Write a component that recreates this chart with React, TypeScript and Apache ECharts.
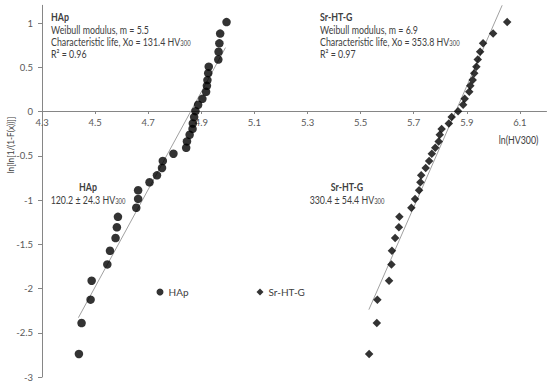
import React, { useEffect, useRef } from "react";
import * as echarts from "echarts";

// Weibull plot ordinate ln[ln[1/(1-F(x))]] shared by both materials (by rank)
const rankY = [
  1.01, 0.88, 0.77, 0.675, 0.587, 0.507, 0.433, 0.355, 0.29, 0.222, 0.143, 0.076,
  0.004, -0.063, -0.135, -0.197, -0.263, -0.338, -0.41, -0.477, -0.559, -0.638,
  -0.721, -0.8, -0.89, -0.988, -1.088, -1.19, -1.308, -1.43, -1.574, -1.728,
  -1.912, -2.126, -2.39, -2.74,
];
const hapX = [
  4.995, 4.971, 4.968, 4.965, 4.964, 4.928, 4.926, 4.923, 4.921, 4.918, 4.904, 4.888,
  4.878, 4.873, 4.868, 4.867, 4.856, 4.846, 4.843, 4.795, 4.755, 4.752, 4.733, 4.705,
  4.662, 4.662, 4.655, 4.586, 4.582, 4.577, 4.556, 4.546, 4.487, 4.483, 4.449, 4.439,
];
const srX = [
  6.052, 5.999, 5.961, 5.95, 5.941, 5.936, 5.928, 5.922, 5.913, 5.909, 5.892, 5.886,
  5.867, 5.843, 5.832, 5.805, 5.798, 5.794, 5.781, 5.768, 5.758, 5.745, 5.728, 5.725,
  5.72, 5.705, 5.691, 5.646, 5.644, 5.63, 5.618, 5.616, 5.607, 5.563, 5.561, 5.532,
];
const hapFitX = [4.437, 4.991];
const hapFitY = [-2.33, 0.722];
const srFitX = [5.531, 6.033];
const srFitY = [-2.239, 1.2];
const xTicks = [4.3, 4.5, 4.7, 4.9, 5.1, 5.3, 5.5, 5.7, 5.9, 6.1];
const yTicks = [-3, -2.5, -2, -1.5, -1, -0.5, 0, 0.5, 1];

const FONT = "Lato, 'Liberation Sans', sans-serif";
const TXT = "#404040";
const SX = 0.84;

const rich = {
  n: { fontSize: 10.5, fontFamily: FONT, color: TXT },
  b: { fontSize: 10.5, fontFamily: FONT, fontWeight: "bold", color: TXT },
  s: { fontSize: 7, fontFamily: FONT, color: TXT, verticalAlign: "bottom" },
};

function txt(x: number, y: number, text: string, align = "left") {
  return {
    type: "text",
    x,
    y,
    scaleX: SX,
    silent: true,
    style: {
      text,
      rich,
      fill: TXT,
      font: `10.5px ${FONT}`,
      align,
      verticalAlign: "middle",
    },
  };
}

export default function App() {
  const ref = useRef<HTMLDivElement>(null);
  useEffect(() => {
    if (!ref.current) return;
    const chart = echarts.init(ref.current, null, { renderer: "svg" });
    const axisColor = "#868686";
    chart.setOption({
      animation: false,
      backgroundColor: "#ffffff",
      grid: { left: 42, right: 3.5, top: 5.3, bottom: 4.3, containLabel: false },
      legend: {
        left: 151.5,
        top: 282,
        itemGap: 68,
        itemWidth: 7,
        itemHeight: 7,
        textStyle: { fontSize: 10, color: TXT, fontFamily: FONT },
        data: [
          { name: "HAp", icon: "circle" },
          { name: "Sr-HT-G", icon: "diamond" },
        ],
      },
      xAxis: {
        type: "value",
        min: 4.3,
        max: 6.2,
        position: "bottom",
        offset: -266,
        axisLine: { onZero: false, lineStyle: { color: axisColor, width: 1 } },
        axisTick: { show: true, length: 3, customValues: xTicks, lineStyle: { color: axisColor } },
        axisLabel: {
          customValues: xTicks,
          color: "#595959",
          fontSize: 9.5,
          fontFamily: FONT,
          margin: 6,
          formatter: (v: number) => v.toFixed(1),
        },
        splitLine: { show: false },
      },
      yAxis: {
        type: "value",
        min: -3,
        max: 1.2,
        axisLine: { show: true, lineStyle: { color: axisColor, width: 1 } },
        axisTick: { show: true, length: 4, customValues: yTicks, lineStyle: { color: axisColor } },
        axisLabel: {
          customValues: yTicks,
          color: "#595959",
          fontSize: 9.5,
          fontFamily: FONT,
          margin: 9,
          formatter: (v: number) => String(v),
        },
        splitLine: { show: false },
      },
      series: [
        {
          name: "HAp fit",
          type: "line",
          data: hapFitX.map((x, i) => [x, hapFitY[i]]),
          showSymbol: false,
          silent: true,
          lineStyle: { color: "#a0a0a0", width: 1 },
          z: 1,
        },
        {
          name: "Sr-HT-G fit",
          type: "line",
          data: srFitX.map((x, i) => [x, srFitY[i]]),
          showSymbol: false,
          silent: true,
          lineStyle: { color: "#a0a0a0", width: 1 },
          z: 1,
        },
        {
          name: "HAp",
          type: "scatter",
          symbol: "circle",
          symbolSize: 8.5,
          itemStyle: { color: "#000000" },
          data: hapX.map((x, i) => [x, rankY[i]]),
          z: 3,
        },
        {
          name: "Sr-HT-G",
          type: "scatter",
          symbol: "diamond",
          symbolSize: 8.5,
          itemStyle: { color: "#000000" },
          data: srX.map((x, i) => [x, rankY[i]]),
          z: 3,
        },
      ],
      graphic: [
        txt(51, 17, "{b|HAp}"),
        txt(51, 29.5, "{n|Weibull modulus, m = 5.5}"),
        txt(51, 41.5, "{n|Characteristic life, Xo = 131.4 HV}{s|300}"),
        txt(51, 53.5, "{n|R² = 0.96}"),
        txt(320, 17, "{b|Sr-HT-G}"),
        txt(320, 29.5, "{n|Weibull modulus, m = 6.9}"),
        txt(320, 41.5, "{n|Characteristic life, Xo = 353.8 HV}{s|300}"),
        txt(320, 53.5, "{n|R² = 0.97}"),
        txt(88, 187, "{b|HAp}", "center"),
        txt(88, 199.5, "{n|120.2 ± 24.3 HV}{s|300}", "center"),
        txt(347, 186.5, "{b|Sr-HT-G}", "center"),
        txt(347, 199.5, "{n|330.4 ± 54.4 HV}{s|300}", "center"),
        txt(518.5, 140, "{n|ln(HV300)}", "center"),
        {
          type: "text",
          x: 10,
          y: 145,
          rotation: Math.PI / 2,
          scaleX: 0.82,
          silent: true,
          style: {
            text: "ln[ln[1/(1-F(x))]]",
            fill: TXT,
            font: `10px ${FONT}`,
            align: "center",
            verticalAlign: "middle",
          },
        },
      ],
    });
    return () => chart.dispose();
  }, []);
  return (
    <div
      ref={ref}
      style={{ position: "absolute", left: 0, top: 0, width: 550, height: 382 }}
    />
  );
}
